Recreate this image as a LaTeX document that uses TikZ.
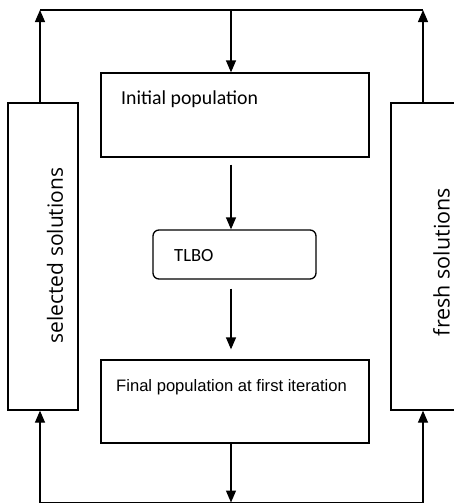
\documentclass[tikz,border=0pt]{standalone}
\usepackage{fontspec}
\setmainfont{Carlito}
\newfontfamily\arialf{Liberation Sans}
\newfontfamily\opensf{Open Sans}
\usetikzlibrary{arrows.meta}
\tikzset{
  box/.style={draw, line width=1.3pt, inner sep=0pt},
  wire/.style={line width=1.3pt},
  arr/.style={line width=1.3pt, -{Triangle[length=12pt,width=10pt]}},
  lbl/.style={inner sep=0pt, anchor=base west},
}
\begin{document}
\begin{tikzpicture}[x=1pt,y=-1pt]
\useasboundingbox (0,0) rectangle (454,504);
\clip (0,0) rectangle (454,504);
% boxes
\node[box, minimum width=268pt, minimum height=84pt] (init) at (235,115) {};
\node[box, rounded corners=6pt, minimum width=163pt, minimum height=49pt] (tlbo) at (234.5,254.5) {};
\node[box, minimum width=268pt, minimum height=83pt] (final) at (235,401.5) {};
\node[box, minimum width=70pt, minimum height=307pt] (lbox) at (43,256.5) {};
\node[box, minimum width=68pt, minimum height=307pt] (rbox) at (425,256.5) {};
% texts
\node[lbl] (tinit) at (121,104) {\fontsize{19.8}{22}\selectfont Initial population};
\node[lbl] (ttlbo) at (174,261) {\fontsize{18.6}{22}\selectfont TLBO};
\node[lbl] (tfinal) at (116,391) {\arialf\fontsize{16.6}{20}\selectfont Final population at first iteration};
\node[inner sep=0pt, rotate=90] (tsel) at (55,255.5) {\opensf\fontsize{21}{24}\selectfont selected solutions};
\node[inner sep=0pt, rotate=90] (tfresh) at (441.5,262) {\opensf\fontsize{21.5}{24}\selectfont fresh solutions};
% loop coordinates
\coordinate (tl) at (40,10);
\coordinate (tr) at (423,10);
\coordinate (tm) at (231,10);
\coordinate (bl) at (40,502.5);
\coordinate (br) at (423,502.5);
\coordinate (bm) at (231,502.5);
% top loop
\draw[wire] (tl) -- (tr);
\draw[arr] (tl |- lbox.north) -- (tl);
\draw[arr] (tr |- rbox.north) -- (tr);
\draw[arr] (tm) -- (tm |- init.north);
% middle chain
\draw[arr] ([yshift=-7pt]tm |- init.south) -- (tm |- tlbo.north);
\draw[arr] ([yshift=-9pt]tm |- tlbo.south) -- ([yshift=10pt]tm |- final.north);
% bottom loop
\draw[arr] (tm |- final.south) -- (bm);
\draw[wire] (bl) -- (br);
\draw[arr] (bl) -- (bl |- lbox.south);
\draw[arr] (br) -- (br |- rbox.south);
\end{tikzpicture}
\end{document}
